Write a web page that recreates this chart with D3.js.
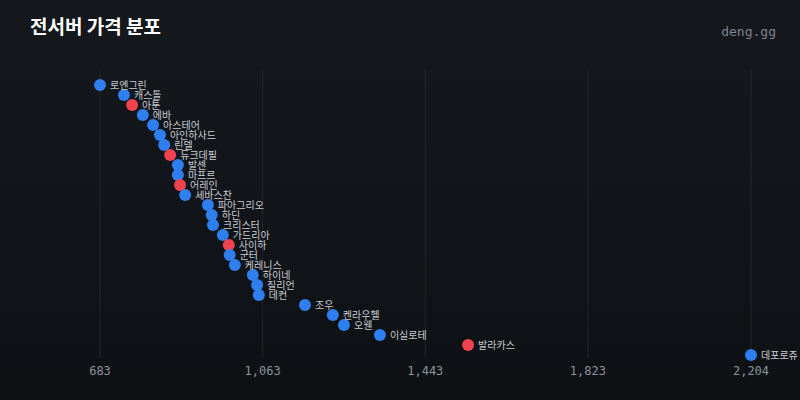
<!DOCTYPE html><html><head><meta charset="utf-8"><script src="https://cdn.jsdelivr.net/npm/d3@7"></script>
<style>body{margin:0;background:#121519}</style></head><body><svg width="800" height="400"></svg><script>
const servers=["로엔그린","캐스톨","아툰","에바","아스테어","아인하사드","린델","듀크데필","발센","마프르","어레인","세바스찬","파아그리오","하딘","크리스터","가드리아","사이하","군터","케레니스","하이네","질리언","데컨","조우","켄라우헬","오웬","이실로테","발라카스","데포로쥬"];
const prices=[683,739,758,783,807,823,833,847,865,865,870,882,935,944,947,970,984,986,998,1040,1050,1054,1162,1227,1253,1337,1543,2204];
const highlighted=["아툰","듀크데필","어레인","사이하","발라카스"];
const tickValues=[683,1063,1443,1823,2204];
const svg=d3.select("svg");
const g=svg.append("defs").append("linearGradient").attr("id","bg").attr("x1",0).attr("y1",0).attr("x2",0).attr("y2",1);
g.append("stop").attr("offset",0).attr("stop-color","#15191e");g.append("stop").attr("offset",1).attr("stop-color","#0e1114");
svg.append("rect").attr("width",800).attr("height",400).attr("fill","url(#bg)");
const x=d3.scaleLinear().domain([683,2204]).range([100,751]);
const y=d3.scalePoint().domain(servers).range([85,355]);
svg.selectAll("line.grid").data(tickValues).join("line").attr("x1",d=>x(d)).attr("x2",d=>x(d)).attr("y1",70).attr("y2",358).attr("stroke","#222830").attr("stroke-width",1);
svg.selectAll("text.tick").data(tickValues).join("text").attr("x",d=>x(d)).attr("y",375).attr("text-anchor","middle").attr("fill","#8a929c").attr("font-family","DejaVu Sans Mono").attr("font-size",12).text(d=>d3.format(",")(d));
const pts=servers.map((s,i)=>({s,v:prices[i]}));
svg.selectAll("circle").data(pts).join("circle").attr("cx",d=>x(d.v)).attr("cy",d=>y(d.s)).attr("r",6).attr("fill",d=>highlighted.includes(d.s)?"#f0424f":"#2f7ff0");
svg.selectAll("text.lbl").data(pts).join("text").attr("x",d=>x(d.v)+10).attr("y",d=>y(d.s)+4).attr("fill","#c8ccd2").attr("font-family","Noto Sans CJK KR").attr("font-size",10).text(d=>d.s);
svg.append("text").attr("x",30).attr("y",34).attr("fill","#fff").attr("font-family","Noto Sans CJK KR").attr("font-weight","bold").attr("font-size",19).text("전서버 가격 분포");
svg.append("text").attr("x",776).attr("y",36).attr("text-anchor","end").attr("fill","#7d858f").attr("font-family","DejaVu Sans Mono").attr("font-size",13).text("deng.gg");
</script></body></html>
